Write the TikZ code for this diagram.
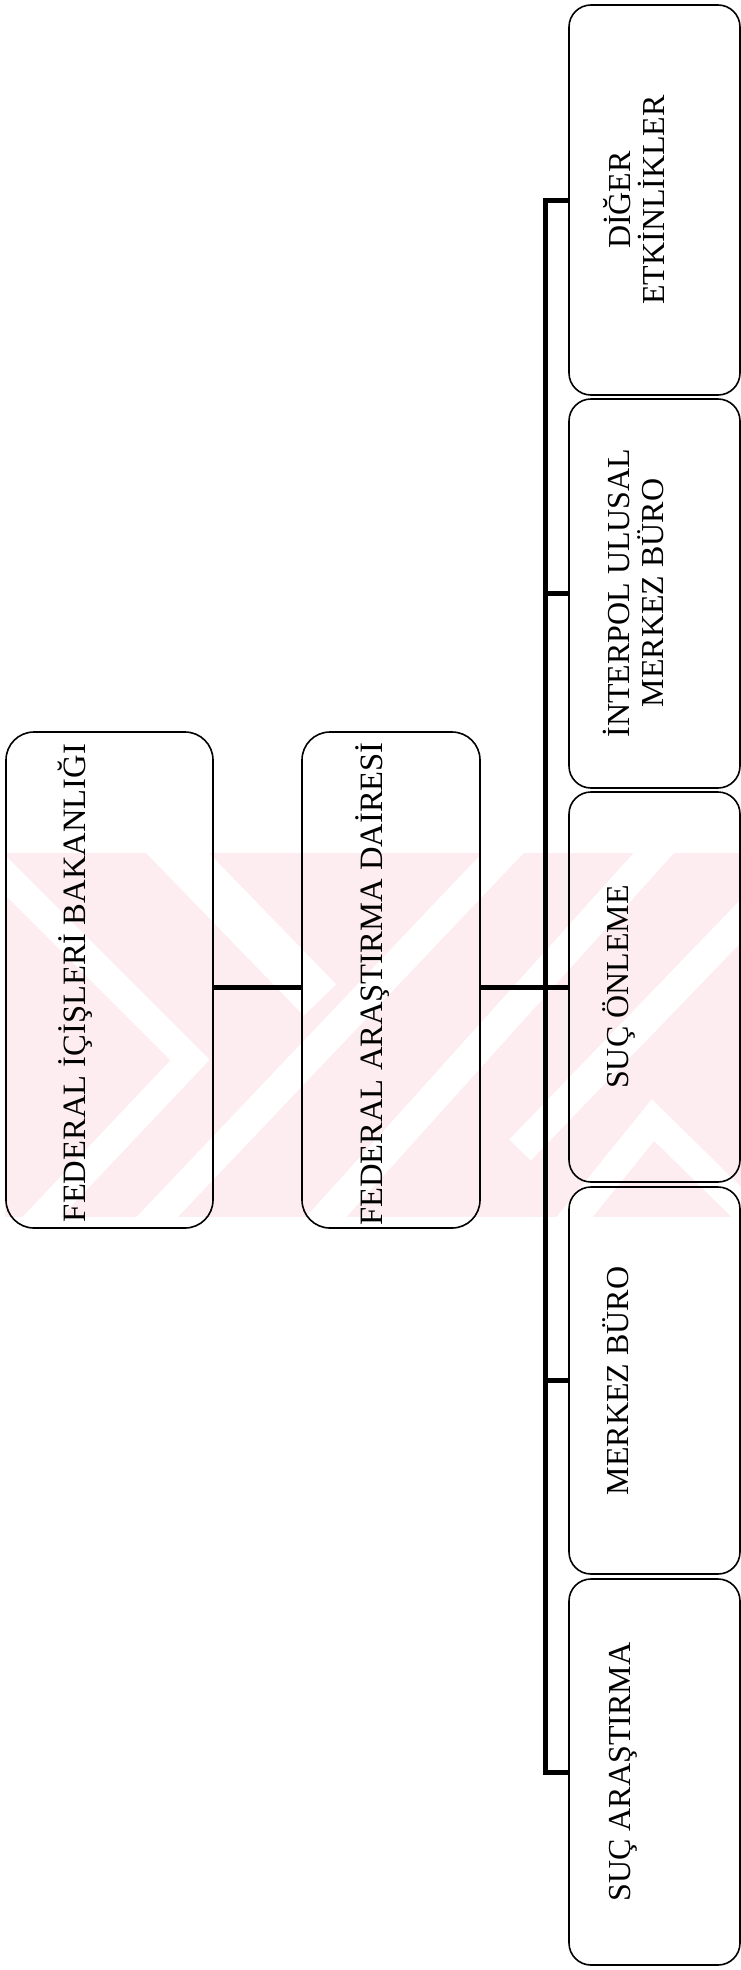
\documentclass[tikz,border=0pt]{standalone}
\usepackage{fontspec}
\setmainfont{Liberation Serif}
\definecolor{wmpink}{RGB}{253,237,241}
\begin{document}
\begin{tikzpicture}[x=1pt,y=-1pt,
  box/.style={draw=black, line width=1.6pt, inner sep=0pt},
  bigbox/.style={box, rounded corners=28pt, minimum width=207pt, minimum height=496pt},
  childbox/.style={box, rounded corners=22pt, minimum width=171pt},
  lbl/.style={rotate=90, anchor=base, inner sep=0pt, align=center,
    font=\fontsize{32}{34}\selectfont},
  biglbl/.style={lbl, font=\fontsize{32.6}{34}\selectfont},
  conn/.style={draw=black, line width=5pt},
  branch/.style={draw=black, line width=4.5pt}]
\useasboundingbox (0,0) rectangle (741,1970);
\fill[white] (0,0) rectangle (741,1970);
% watermark
\begin{scope}
  \clip (5,853) rectangle (741,1217);
  \fill[wmpink] (5,853) rectangle (741,1217);
  \draw[white, line width=28pt, miter limit=10] (-20,850) -- (190,1060) -- (20,1240);
  \draw[white, line width=45pt] (160,835) -- (320,1000);
  \draw[white, line width=30pt] (520,835) -- (140,1235);
  \draw[white, line width=30pt] (670,835) -- (310,1235);
  \draw[white, line width=30pt] (790,870) -- (520,1150);
  \draw[white, line width=28pt, miter limit=10] (560,1235) -- (653,1120) -- (770,1235);
\end{scope}
% boxes
\node[bigbox] (b1) at (109.5,980) {};
\node[bigbox, minimum width=178pt] (b2) at (391,980) {};
\node[childbox, minimum height=390pt] (c1) at (654.5,200) {};
\node[childbox, minimum height=389pt] (c2) at (654.5,593.5) {};
\node[childbox, minimum height=390pt] (c3) at (654.5,987) {};
\node[childbox, minimum height=387pt] (c4) at (654.5,1380.5) {};
\node[childbox, minimum height=386pt] (c5) at (654.5,1772) {};
% labels
\node[biglbl] (t1) at (85,983) {FEDERAL İÇİŞLERİ BAKANLIĞI};
\node[biglbl] (t2) at (382,984) {FEDERAL ARAŞTIRMA DAİRESİ};
\node[lbl] (t3) at (664,200) {DİĞER\\ETKİNLİKLER};
\node[lbl] (t4) at (663,593) {İNTERPOL ULUSAL\\MERKEZ BÜRO};
\node[lbl] (t5) at (628,987) {SUÇ ÖNLEME};
\node[lbl] (t6) at (628,1381) {MERKEZ BÜRO};
\node[lbl] (t7) at (630,1772) {SUÇ ARAŞTIRMA};
% connectors
\coordinate (bus) at (545,0);
\draw[conn] (b1.east |- c3.west) -- (b2.west |- c3.west);
\draw[conn] (b2.east |- c3.west) -- (c3.west);
\draw[conn, line join=miter] (c1.west) -- (c1.west -| bus) -- (c5.west -| bus) -- (c5.west);
\draw[branch] (c2.west -| bus) -- (c2.west);
\draw[branch] (c4.west -| bus) -- (c4.west);
\end{tikzpicture}
\end{document}
